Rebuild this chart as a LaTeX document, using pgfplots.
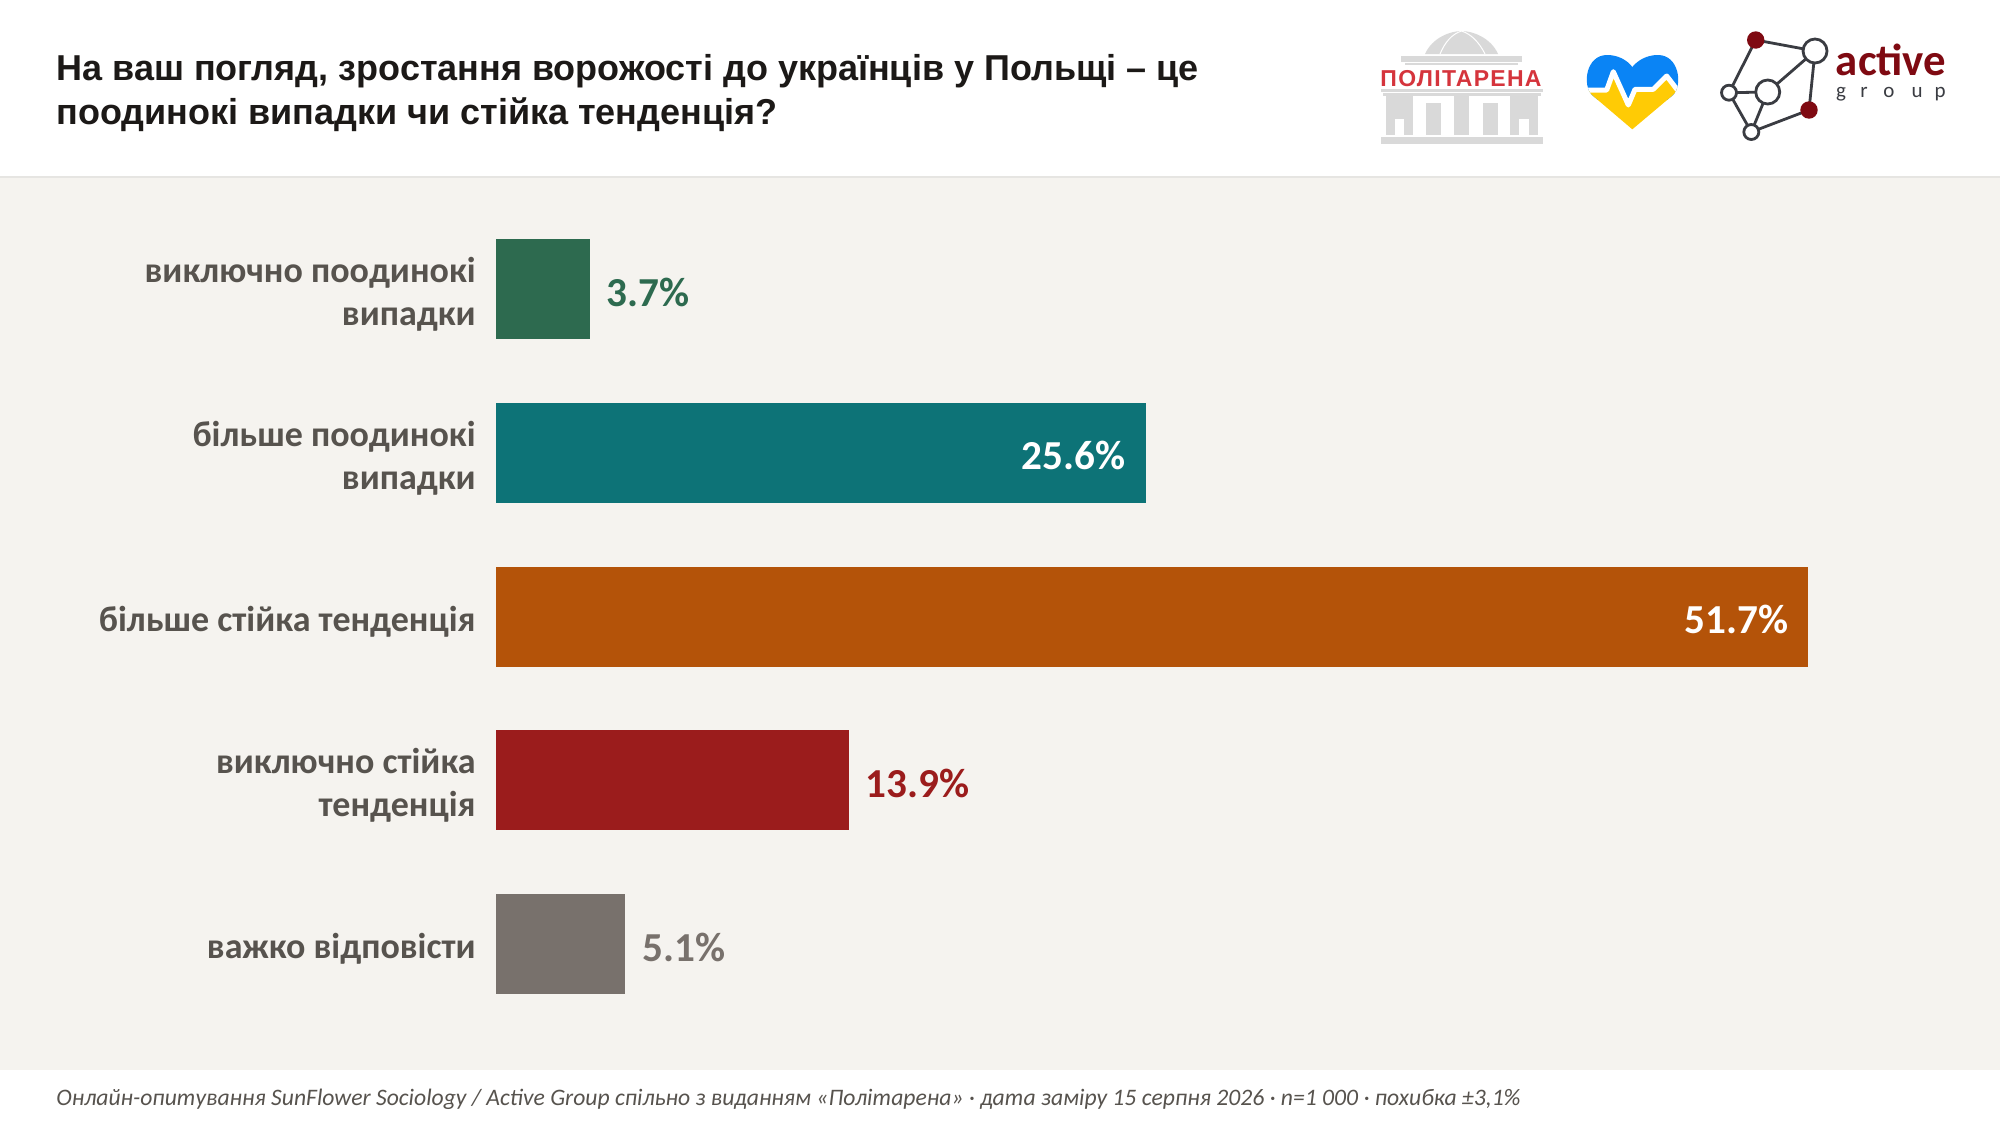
\documentclass[border=0pt]{standalone}
\usepackage{fontspec}
\usepackage{pgfplots}
\pgfplotsset{compat=1.18}
\setmainfont{Carlito}
\newfontfamily\headfont{Liberation Sans}
\newfontfamily\logofont[LetterSpace=5.6]{Liberation Sans}

\definecolor{panel}{HTML}{F5F3EF}
\definecolor{rulegrey}{HTML}{E6E5E2}
\definecolor{inktitle}{HTML}{1C1917}
\definecolor{inklabel}{HTML}{57534E}
\definecolor{cgreen}{HTML}{2D6A4F}
\definecolor{cteal}{HTML}{0D7377}
\definecolor{corange}{HTML}{B45309}
\definecolor{cred}{HTML}{9B1C1C}
\definecolor{cgrey}{HTML}{78716C}
\definecolor{bldgrey}{HTML}{D9D9D9}
\definecolor{bldred}{HTML}{D5343C}
\definecolor{hblue}{HTML}{0A84F5}
\definecolor{hyellow}{HTML}{FFCB05}
\definecolor{agdark}{HTML}{3A3C42}
\definecolor{agred}{HTML}{7F0A12}

\pgfplotsset{
  valuelabel/.style={
    nodes near coords={\pgfmathprintnumber[fixed,fixed zerofill,precision=1,assume math mode=true]{\pgfplotspointmeta}\%},
    point meta=x,
    nodes near coords style={font=\fontsize{20.6}{25}\bfseries\selectfont,inner sep=0pt,yshift=-1.5pt,#1},
  },
}

\begin{document}
\begin{tikzpicture}
% page, in reference pixels with y running down
\begin{scope}[x=0.5pt,y=-0.5pt]
  \fill[white] (0,0) rectangle (2000,1126);
  \fill[panel] (0,177) rectangle (2000,1070);
  \fill[rulegrey] (0,176) rectangle (2000,178);
  \coordinate (plotcorner) at (496,1026);

  \node[anchor=base west,inner sep=0pt,text=inktitle,font=\headfont\fontsize{18}{22}\bfseries\selectfont]
    at (56,80) {На ваш погляд, зростання ворожості до українців у Польщі – це};
  \node[anchor=base west,inner sep=0pt,text=inktitle,font=\headfont\fontsize{18}{22}\bfseries\selectfont]
    at (56,124) {поодинокі випадки чи стійка тенденція?};
  \node[anchor=base west,inner sep=0pt,text=inklabel,font=\fontsize{11.82}{14}\itshape\selectfont]
    at (56,1105) {Онлайн-опитування SunFlower Sociology / Active Group спільно з виданням «Політарена» · дата заміру 15 серпня 2026 · n=1 000 · похибка ±3,1\%};

  % building logo
  \fill[bldgrey] (1425,54) .. controls (1432,38) and (1450,31) .. (1461.5,31) .. controls (1473,31) and (1491,38) .. (1498,54) -- cycle;
  \draw[white,line width=0.5pt] (1440,54) .. controls (1445,42) and (1452,34) .. (1461.5,31) .. controls (1471,34) and (1479,42) .. (1485,54);
  \fill[bldgrey] (1401,56) rectangle (1522,62);
  \fill[bldgrey] (1405,63) rectangle (1518,65);
  \fill[bldgrey] (1381,89) rectangle (1543,92);
  \fill[bldgrey] (1383,93) rectangle (1541,96);
  \fill[bldgrey] (1386,96) rectangle (1395,135);
  \fill[bldgrey] (1395,96) rectangle (1413,119);
  \fill[bldgrey] (1404,119) rectangle (1413,135);
  \fill[bldgrey] (1426,103) rectangle (1441,135);
  \fill[bldgrey] (1454,96) rectangle (1469,135);
  \fill[bldgrey] (1483,103) rectangle (1498,135);
  \fill[bldgrey] (1510,96) rectangle (1538,119);
  \fill[bldgrey] (1510,119) rectangle (1519,135);
  \fill[bldgrey] (1529,119) rectangle (1538,135);
  \fill[bldgrey] (1381,137) rectangle (1543,144);
  \node[inner sep=0pt,text=bldred,font=\logofont\fontsize{11.5}{13}\bfseries\selectfont] at (1461,78.5) {ПОЛІТАРЕНА};

  % heart logo
  \begin{scope}
    \clip (1632.3,129.3) -- (1592,95) .. controls (1582,85) and (1586,55) .. (1607,55)
      .. controls (1618,55) and (1627,60) .. (1632.3,67) .. controls (1638,60) and (1647,55) .. (1658,55)
      .. controls (1679,55) and (1683,85) .. (1673,95) -- cycle;
    \fill[hblue] (1580,50) rectangle (1685,100);
    \fill[hyellow] (1580,90) -- (1606.7,90) -- (1613.3,71.7) -- (1628.3,105) -- (1635,89.3) -- (1653.3,89.3) -- (1666.7,76) -- (1685,100) -- (1685,135) -- (1580,135) -- cycle;
    \draw[white,line width=2.5pt,line join=round] (1580,90) -- (1606.7,90) -- (1613.3,71.7) -- (1628.3,105) -- (1635,89.3) -- (1653.3,89.3) -- (1666.7,76) -- (1685,100);
  \end{scope}

  % active group logo
  \draw[agdark,line width=1.4pt] (1755.7,40) -- (1815,51) -- (1767.7,92) -- (1729,92.7) -- (1755.7,40)
    (1729,92.7) -- (1751.3,132) -- (1767.7,92) (1815,51) -- (1809,110) -- (1751.3,132);
  \fill[agred] (1755.7,40) circle (8.7);
  \fill[agred] (1809,110) circle (8.7);
  \filldraw[fill=white,draw=agdark,line width=1.4pt] (1815,51) circle (12) (1767.7,92) circle (12) (1729,92.7) circle (7.5) (1751.3,132) circle (7.5);
  \node[anchor=base west,inner sep=0pt,text=agred,font=\fontsize{22.4}{26}\bfseries\selectfont] at (1835.5,75.5) {active};
  \foreach \gx/\gl in {1841/g,1864/r,1889/o,1917/u,1940/p}
    \node[anchor=base,inner sep=0pt,text=agdark,font=\fontsize{10.5}{12}\selectfont] at (\gx,97) {\gl};
\end{scope}

\begin{axis}[
  at={(plotcorner)},
  anchor=south west,
  scale only axis,
  width=656pt,
  height=409.4pt,
  xbar,
  bar width=50pt,
  bar shift=0pt,
  xmin=0, xmax=51.7,
  ymin=-0.5, ymax=4.5,
  y dir=reverse,
  clip=false,
  axis line style={draw=none},
  major tick length=0pt,
  xtick=\empty,
  ytick={0,1,2,3,4},
  yticklabels={{виключно поодинокі\\випадки},{більше поодинокі\\випадки},{більше стійка тенденція},{виключно стійка\\тенденція},{важко відповісти}},
  yticklabel style={align=right,inner sep=0pt,xshift=-10pt,yshift=-2.5pt,text=inklabel,font=\fontsize{18}{21.5}\bfseries\selectfont},
]
\addplot[fill=cgreen,draw=none,valuelabel={text=cgreen,anchor=west,xshift=8.2pt}] coordinates {(3.7,0)};
\addplot[fill=cteal,draw=none,valuelabel={text=white,anchor=east,xshift=-9.8pt}] coordinates {(25.6,1)};
\addplot[fill=corange,draw=none,valuelabel={text=white,anchor=east,xshift=-9.8pt}] coordinates {(51.7,2)};
\addplot[fill=cred,draw=none,valuelabel={text=cred,anchor=west,xshift=8.2pt}] coordinates {(13.9,3)};
\addplot[fill=cgrey,draw=none,valuelabel={text=cgrey,anchor=west,xshift=8.2pt}] coordinates {(5.1,4)};
\end{axis}
\end{tikzpicture}
\end{document}
